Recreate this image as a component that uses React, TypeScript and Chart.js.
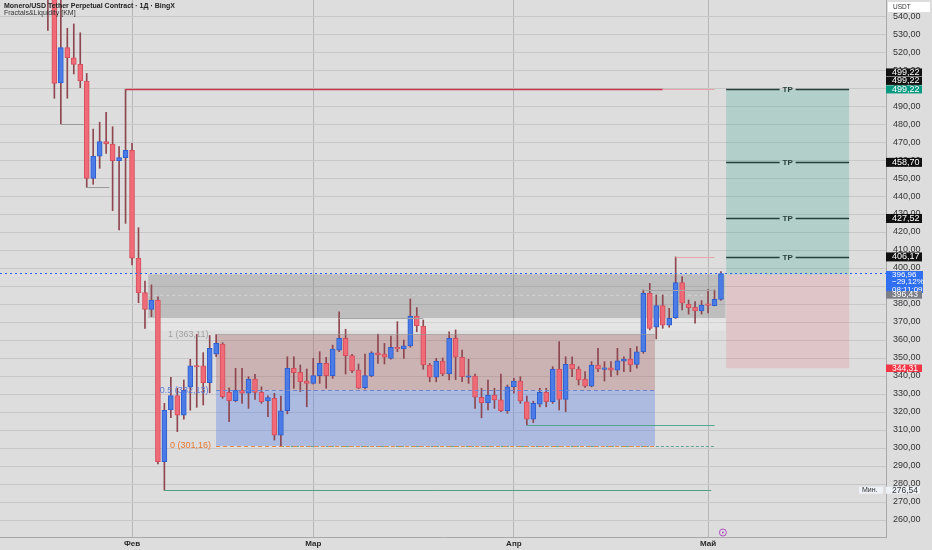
import React, { useEffect, useRef } from "react";
import { Chart, registerables } from "chart.js";

Chart.register(...registerables);

// ---- data (day index: 0 = 1 Feb) ----
const dayIndex = [
  -13, -12, -11, -10, -9, -8, -7, -6, -5, -4, -3, -2, -1,
  0, 1, 2, 3, 4, 5, 6, 7, 8, 9, 10, 11, 12, 13, 14, 15, 16, 17, 18, 19,
  20, 21, 22, 23, 24, 25, 26, 27, 28, 29, 30, 31, 32, 33, 34, 35, 36, 37, 38, 39,
  40, 41, 42, 43, 44, 45, 46, 47, 48, 49, 50, 51, 52, 53, 54, 55, 56, 57, 58, 59,
  60, 61, 62, 63, 64, 65, 66, 67, 68, 69, 70, 71, 72, 73, 74, 75, 76, 77, 78, 79,
  80, 81, 82, 83, 84, 85, 86, 87, 88, 89, 90, 91,
];
const opens = [
  562, 556, 502.9, 522.4, 516.8, 513.1, 503.9, 449.8, 462.2, 470.2, 468.9, 459.6, 461.3,
  465.4, 405.4, 386.3, 377, 382.2, 292.4, 321.1, 329.1, 318.3, 334, 345.6, 345.7, 336.3, 352.1, 357.8, 331, 326.3, 332.2, 330.4, 338.3,
  330.9, 326.1, 327.6, 307.2, 320.7, 344.3, 342, 337.2, 335.9, 340.2, 347, 340.2, 354.4, 360.9, 351.3, 343.3, 333.5, 340, 352.9, 352.2,
  349.8, 355.9, 355, 356.7, 373.3, 367.8, 346.1, 339.3, 348.3, 341.1, 360.9, 350.4, 339.3, 340, 328.2, 325.2, 329.4, 326.7, 320.7, 334,
  337.2, 325.7, 316, 324.4, 330.9, 325.7, 343.9, 327, 346.5, 343.9, 338.3, 334.4, 346.1, 343.7, 344.6, 343.3, 348.3, 349.4, 346.5, 353.5,
  386, 367.1, 379.1, 368.3, 372.4, 391.9, 379.8, 378.1, 376.1, 380, 379.1, 382.6,
];
const highs = [
  575, 560, 552, 533.2, 535.6, 530.7, 508.1, 477.2, 481, 486.5, 478.5, 467.4, 499.22,
  469.3, 422.4, 392.8, 390.6, 384, 324.8, 339.3, 333.2, 337.8, 349.3, 363.11, 353, 362.5, 363, 358.5, 333.5, 344.3, 344.3, 339.6, 341,
  334, 329, 330.4, 328.9, 350.7, 350.7, 346.1, 343.9, 349.8, 353.5, 350.4, 357.2, 375.7, 366, 352, 346.7, 352.2, 353.5, 363.3, 358.1,
  362.2, 370.2, 360, 382.8, 378, 371.1, 347, 349.8, 350, 364.6, 365.6, 354.4, 349.3, 341.1, 333.2, 337.8, 333.2, 341.1, 335, 338.7,
  339.6, 328.9, 326, 333.2, 333.2, 345.2, 359.1, 350.7, 350.7, 345.2, 342.4, 348, 355.4, 348, 348, 355.4, 350.7, 355.4, 356.3, 387.8,
  391.5, 385, 385, 377.6, 406.17, 395.2, 382.2, 381.3, 381.9, 388, 387.8, 398,
];
const lows = [
  532, 494.3, 480, 494.3, 507.8, 500.2, 444.8, 446.5, 455.4, 463.7, 431.9, 421.1, 424.8,
  401.7, 380.7, 366.5, 373, 291.1, 276.54, 316.9, 309.1, 316, 321, 322.6, 323.9, 330.7, 350.7, 327.6, 314.6, 325.7, 324.8, 322, 327,
  324.8, 317.4, 304.4, 301.16, 319, 333.2, 331.3, 322.9, 335.5, 335.9, 333.2, 338.7, 353.5, 341.1, 341.9, 333, 332.8, 339.6, 347, 346.7,
  349.4, 353.5, 349.8, 356, 364.6, 343.7, 336.8, 336.8, 340.2, 337.8, 338, 336.8, 335.9, 322, 316.8, 321.1, 322, 320.2, 319.3, 330.4,
  324.8, 312.8, 314.1, 322.9, 322.9, 324.8, 321.1, 320.2, 339.6, 335, 333.7, 334, 342.4, 337.2, 339.6, 340.6, 342.4, 342.4, 344.3, 352.6,
  365.6, 360.6, 366.5, 367.1, 372, 376.7, 374.4, 369.3, 374.4, 375, 379, 382,
];
const closes = [
  556, 502.6, 522.4, 516.8, 513.1, 503.9, 449.8, 462.2, 470.2, 468.9, 459.6, 461.3, 465.4,
  405.4, 386.3, 377, 382.2, 292.4, 321.1, 329.1, 318.3, 332, 345.6, 345.0, 336.3, 355.4, 358.2, 328.5, 326.3, 332.2, 330.4, 338.3, 330.9,
  325.7, 328, 307.2, 320.7, 344.3, 341.8, 336.8, 335.9, 340.2, 347, 340.2, 355, 360.9, 351.3, 342.9, 333.2, 340.2, 352.9, 351.7, 350.4,
  355.9, 355, 356.8, 373.3, 367.8, 346.1, 339.3, 348.3, 341.1, 360.9, 350.4, 339.6, 340, 328.2, 325.2, 329.4, 326.7, 320.7, 334, 337.2,
  326.1, 316, 324.8, 330.9, 325.7, 343.9, 327, 346.5, 343.9, 337.8, 334.4, 346.1, 343.9, 344.5, 343.3, 348.5, 349.4, 346.1, 353.5, 386,
  366.5, 379.1, 368.3, 372, 391.9, 380.4, 377.9, 376.1, 379.4, 379.2, 382.6, 396.96,
];

const monthTickIdx = [0, 28, 59, 89];
const monthLabels = ["Фев", "Мар", "Апр", "Май"];
const yTickValues = [260, 270, 280, 290, 300, 310, 320, 330, 340, 350, 360, 370, 380, 390, 400, 410, 420, 430, 440, 450, 460, 470, 480, 490, 500, 510, 520, 530, 540];

const tpLevels = [499.22, 458.7, 427.52, 406.17];
const entryPrice = 396.43;
const stopPrice = 344.31;
const lastPrice = 396.96;
const lastChange = "−29,12%";
const countdown = "08:11:09";
const minPrice = 276.54;
const fibLevels = [363.11, 332.13, 301.16];
const fibNames = ["1 (363,11)", "0.5 (332,13)", "0 (301,16)"];
const liqZone = [396.5, 372.2];
const highFractal = 499.22;
const highFractal2 = 406.17;
const lowLine2 = 312.8;

const title = "Monero/USD Tether Perpetual Contract · 1Д · BingX";
const subtitle = "Fractals&Liquidity [KM]";

const fmt = (v: number) => v.toFixed(2).replace(".", ",");

const RED = "#f06a78";
const RED_B = "#d4505e";
const BLUE = "#4a7be6";
const BLUE_B = "#2f5fcf";
const WICK = "#8e4650";
const FONT = "'Liberation Sans', Arial, sans-serif";

const overlay = {
  id: "overlay",
  beforeDraw(chart: any) {
    const c = chart.ctx;
    c.save();
    c.fillStyle = "#dddddd";
    c.fillRect(0, 0, chart.width, chart.height);
    c.restore();
  },
  beforeDatasetsDraw(chart: any) {
    const c = chart.ctx;
    const xs = chart.scales.x;
    const ys = chart.scales.y;
    const X = (v: number) => xs.getPixelForValue(v);
    const Y = (v: number) => ys.getPixelForValue(v);
    const a = chart.chartArea;
    c.save();
    c.beginPath();
    c.rect(a.left, a.top, a.right - a.left, a.bottom - a.top);
    c.clip();
    const rect = (x1: number, x2: number, p1: number, p2: number, col: string) => {
      c.fillStyle = col;
      c.fillRect(X(x1), Y(p1), X(x2) - X(x1), Y(p2) - Y(p1));
    };
    // liquidity band
    rect(2.5, 91.7, liqZone[0], liqZone[1], "rgba(100,100,100,0.25)");
    rect(2.5, 91.7, liqZone[1], 365.2, "rgba(255,255,255,0.22)");
    // range boxes
    rect(12.98, 80.8, fibLevels[0], fibLevels[1], "rgba(165,90,90,0.32)");
    rect(12.98, 80.8, fibLevels[1], fibLevels[2], "rgba(60,110,230,0.3)");
    // TP / SL boxes
    rect(91.8, 110.8, tpLevels[0], entryPrice, "rgba(8,153,129,0.2)");
    rect(91.8, 110.8, entryPrice, stopPrice, "rgba(242,54,69,0.14)");
    // inner band lines
    c.strokeStyle = "rgba(255,255,255,0.35)";
    c.lineWidth = 1;
    c.setLineDash([3, 3]);
    c.beginPath();
    c.moveTo(X(2.5), Y(384.8));
    c.lineTo(X(91.7), Y(384.8));
    c.stroke();
    c.setLineDash([]);
    c.restore();
  },
  afterDatasetsDraw(chart: any) {
    const c = chart.ctx;
    const xs = chart.scales.x;
    const ys = chart.scales.y;
    const X = (v: number) => xs.getPixelForValue(v);
    const Y = (v: number) => ys.getPixelForValue(v);
    const a = chart.chartArea;
    c.save();
    c.beginPath();
    c.rect(a.left, a.top, a.right - a.left, a.bottom - a.top);
    c.clip();
    const hline = (x1: number, x2: number, p: number, col: string, w: number, dash: number[] = []) => {
      c.strokeStyle = col;
      c.lineWidth = w;
      c.setLineDash(dash);
      c.beginPath();
      c.moveTo(X(x1), Math.round(Y(p)) + 0.5);
      c.lineTo(X(x2), Math.round(Y(p)) + 0.5);
      c.stroke();
      c.setLineDash([]);
    };
    // last price dotted line
    c.strokeStyle = "#2962ff";
    c.lineWidth = 1.2;
    c.setLineDash([2, 3]);
    c.beginPath();
    c.moveTo(a.left, Math.round(Y(lastPrice)) + 0.5);
    c.lineTo(a.right, Math.round(Y(lastPrice)) + 0.5);
    c.stroke();
    c.setLineDash([]);

    // fractal high lines
    hline(-1, 82, highFractal, "#c23a4b", 1.3);
    hline(82, 90, highFractal, "#e7a3aa", 1);
    hline(84, 90, highFractal2, "#e7a3aa", 1);
    // fractal low lines
    hline(5, 89.5, minPrice, "#4f9f85", 1);
    hline(23, 90, fibLevels[2], "#5fa595", 1, [3, 2]);
    hline(61, 90, lowLine2, "#4fa58e", 1);
    hline(-11, -7.5, lows[2], "#9a9a9a", 1);
    hline(-7, -3.5, lows[6], "#9a9a9a", 1);
    hline(32, 45, 372.0, "#a5a5a5", 1);
    hline(79, 90, 387.8, "#a5a5a5", 1);
    // fib levels
    hline(12.98, 80.8, fibLevels[0], "rgba(150,150,150,0.6)", 1);
    hline(12.98, 80.8, fibLevels[1], "#7083cf", 1, [4, 3]);
    hline(12.98, 80.8, fibLevels[2], "#e58a4a", 1, [4, 3]);

    // fib labels
    c.font = `9px ${FONT}`;
    c.textAlign = "right";
    c.textBaseline = "middle";
    c.fillStyle = "rgba(150,150,150,0.85)";
    c.fillText(fibNames[0], X(11.8), Y(fibLevels[0]));
    c.fillStyle = "#5f78d6";
    c.fillText(fibNames[1], X(11.8), Y(fibLevels[1]));
    c.fillStyle = "#e8772e";
    c.fillText(fibNames[2], X(12.2), Y(fibLevels[2]));

    // TP lines
    const tx1 = X(91.8);
    const tx2 = X(110.8);
    const mid = (tx1 + tx2) / 2;
    c.font = `bold 8px ${FONT}`;
    c.textAlign = "center";
    tpLevels.forEach((p) => {
      const y = Math.round(Y(p)) + 0.5;
      c.strokeStyle = "#263f38";
      c.lineWidth = 1.5;
      c.beginPath();
      c.moveTo(tx1, y);
      c.lineTo(mid - 8, y);
      c.moveTo(mid + 8, y);
      c.lineTo(tx2, y);
      c.stroke();
      c.fillStyle = "#263f38";
      c.fillText("TP", mid, y + 0.5);
    });
    c.restore();
  },
  afterDraw(chart: any) {
    const c = chart.ctx;
    const ys = chart.scales.y;
    const xs = chart.scales.x;
    const Y = (v: number) => ys.getPixelForValue(v);
    const a = chart.chartArea;
    c.save();
    // title
    c.textAlign = "left";
    c.textBaseline = "middle";
    c.fillStyle = "#222";
    c.font = `bold 7px ${FONT}`;
    c.fillText(title, 4, 6);
    c.font = `7px ${FONT}`;
    c.fillStyle = "#333";
    c.fillText(subtitle, 4, 13);

    // USDT box
    c.fillStyle = "#ffffff";
    c.fillRect(888, 2, 42, 10);
    c.fillStyle = "#333";
    c.font = `6.5px ${FONT}`;
    c.fillText("USDT", 893, 7);

    const lx = a.right;
    const box = (cy: number, h: number, bg: string) => {
      c.fillStyle = bg;
      c.fillRect(lx, cy - h / 2, 36, h);
    };
    const txt = (s: string, cy: number, col: string, size = 9) => {
      c.fillStyle = col;
      c.font = `${size}px ${FONT}`;
      c.textAlign = "left";
      c.fillText(s, lx + 6, cy);
    };
    // TP labels
    const y1 = Y(tpLevels[0]);
    box(y1 - 17, 8, "#111");
    txt(fmt(tpLevels[0]), y1 - 17, "#fff");
    box(y1 - 8.5, 8, "#111");
    txt(fmt(tpLevels[0]), y1 - 8.5, "#fff");
    box(y1, 8, "#089981");
    txt(fmt(tpLevels[0]), y1, "#fff");
    for (let i = 1; i < tpLevels.length; i++) {
      const y = Y(tpLevels[i]);
      box(y, 9, "#111");
      txt(fmt(tpLevels[i]), y, "#fff");
    }
    // last price box
    const yl = Y(lastPrice);
    c.fillStyle = "#2f6ff0";
    c.fillRect(lx, yl - 2.5, 37, 22);
    txt(fmt(lastPrice), yl + 1.5, "#fff", 8);
    txt(lastChange, yl + 8.7, "#fff", 8);
    txt(countdown, yl + 15.9, "#fff", 8);
    // entry
    const ye = Y(entryPrice) + 20.5;
    box(ye, 7.5, "#7b7e86");
    txt(fmt(entryPrice), ye, "#fff", 8.5);
    // stop
    const ys2 = Y(stopPrice);
    box(ys2, 7.5, "#f23645");
    txt(fmt(stopPrice), ys2, "#fff", 8.5);
    // min label
    const ym = Y(minPrice);
    c.fillStyle = "#eef1f6";
    c.fillRect(lx, ym - 3.5, 34, 7);
    c.fillRect(lx - 27, ym - 3.5, 24, 7);
    c.fillStyle = "#333";
    c.font = `7px ${FONT}`;
    c.fillText("Мин.", lx - 24, ym);
    txt(fmt(minPrice), ym, "#333", 8.5);

    // event icon
    const ex = xs.getPixelForValue(91.3);
    c.strokeStyle = "#b04ac0";
    c.lineWidth = 1;
    c.beginPath();
    c.arc(ex, a.bottom - 4.5, 3.5, 0, Math.PI * 2);
    c.stroke();
    c.fillStyle = "#b04ac0";
    c.beginPath();
    c.arc(ex, a.bottom - 4.5, 1, 0, Math.PI * 2);
    c.fill();
    c.restore();
  },
};

export default function App() {
  const ref = useRef<HTMLCanvasElement | null>(null);
  useEffect(() => {
    if (!ref.current) return;
    const bodyColors = opens.map((o, i) => (closes[i] >= o ? BLUE : RED));
    const bodyBorders = opens.map((o, i) => (closes[i] >= o ? BLUE_B : RED_B));
    const chart = new Chart(ref.current, {
      type: "bar",
      data: {
        datasets: [
          {
            data: dayIndex.map((d, i) => ({ x: d, y: [opens[i], closes[i]] })) as any,
            backgroundColor: bodyColors,
            borderColor: bodyBorders,
            borderWidth: 1,
            borderSkipped: false,
            barThickness: 5,
            minBarLength: 1.5,
            grouped: false,
            order: 1,
          } as any,
          {
            data: dayIndex.map((d, i) => ({ x: d, y: [lows[i], highs[i]] })) as any,
            backgroundColor: WICK,
            borderWidth: 0,
            barThickness: 1,
            grouped: false,
            order: 2,
          } as any,
        ],
      },
      options: {
        animation: false,
        responsive: false,
        maintainAspectRatio: false,
        layout: { padding: 0 },
        events: [],
        plugins: { legend: { display: false }, tooltip: { enabled: false } },
        scales: {
          x: {
            type: "linear",
            min: -20.4,
            max: 116.5,
            offset: false,
            grid: { color: "#b6b6b6", drawTicks: false, offset: false },
            border: { color: "#a8a8a8" },
            ticks: {
              autoSkip: false,
              maxRotation: 0,
              padding: 2,
              color: "#2a2a2a",
              font: { size: 8, weight: "bold", family: FONT },
              callback: (_v: any, i: number) => monthLabels[i],
            },
            afterBuildTicks: (s: any) => {
              s.ticks = monthTickIdx.map((v) => ({ value: v }));
            },
            afterFit: (s: any) => {
              s.height = 13;
              s.paddingLeft = 0;
              s.paddingRight = 0;
            },
          } as any,
          y: {
            position: "right",
            min: 250.56,
            max: 548.9,
            grid: { color: "#c7c7c7", drawTicks: false },
            border: { color: "#a8a8a8" },
            ticks: {
              padding: 7,
              color: "#333",
              font: { size: 9, family: FONT },
              callback: (v: any) => fmt(Number(v)),
            },
            afterBuildTicks: (s: any) => {
              s.ticks = yTickValues.map((v) => ({ value: v }));
            },
            afterFit: (s: any) => {
              s.width = 46;
              s.paddingTop = 0;
              s.paddingBottom = 0;
            },
          } as any,
        },
      },
      plugins: [overlay as any],
    });
    return () => chart.destroy();
  }, []);
  return (
    <div style={{ position: "absolute", left: 0, top: 0, width: 932, height: 550 }}>
      <canvas ref={ref} width={932} height={550} style={{ display: "block" }} />
    </div>
  );
}
